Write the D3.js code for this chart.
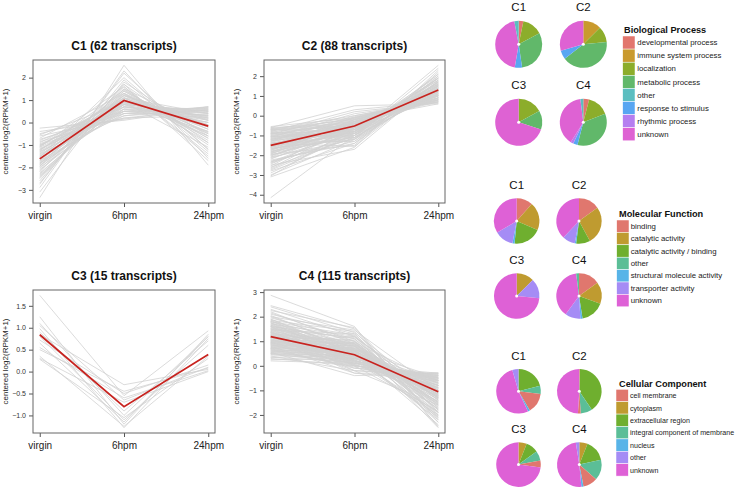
<!DOCTYPE html>
<html><head><meta charset="utf-8">
<script src="https://cdn.jsdelivr.net/npm/d3@7"></script>
<style>body{margin:0;background:#fff;} svg{display:block;font-family:"Liberation Sans",Arial,Helvetica,sans-serif;}</style>
</head><body><svg id="c" width="741" height="489"></svg>
<script>
// ---------------- DATA ----------------
const timepoints = ["virgin", "6hpm", "24hpm"];

const c1Title = "C1 (62 transcripts)";
const c1Mean = [-1.62, 0.98, -0.16];
const c1Ticks = [-3, -2, -1, 0, 1, 2];
const c1Lines = [
[-3.35,2.55,-1.9],[-2.9,2.3,-1.6],[-2.75,2.2,-1.2],[-2.6,1.7,-0.9],[-2.5,1.4,-0.5],[-2.4,1.2,0.1],
[-2.3,1.1,-0.3],[-2.25,0.9,0.4],[-2.2,1.6,-1.4],[-2.1,0.8,0.5],[-2.05,1.3,-0.7],[-2.0,0.6,0.6],
[-1.95,1.0,-0.1],[-1.9,0.7,0.3],[-1.85,1.5,-1.0],[-1.8,0.5,0.65],[-1.8,1.1,-0.4],[-1.75,0.9,0.2],
[-1.7,1.2,-0.6],[-1.7,0.4,0.7],[-1.65,0.8,0.0],[-1.6,1.0,-0.2],[-1.6,0.6,0.4],[-1.55,1.4,-0.8],
[-1.5,0.7,0.3],[-1.5,1.1,-0.5],[-1.45,0.9,0.1],[-1.4,0.3,0.55],[-1.4,1.3,-0.3],[-1.35,0.8,0.5],
[-1.3,1.0,-0.6],[-1.3,0.5,0.2],[-1.25,1.2,-0.1],[-1.2,0.7,0.6],[-1.2,0.9,-1.1],[-1.15,0.4,0.35],
[-1.1,1.6,-1.5],[-1.1,0.6,0.0],[-1.05,1.1,0.4],[-1.0,0.3,0.7],[-1.0,0.8,-0.4],[-0.95,0.5,0.5],
[-0.9,1.0,-0.2],[-0.85,0.2,0.6],[-0.8,0.7,0.1],[-0.75,0.4,0.45],[-0.7,1.3,-0.9],[-0.6,0.2,0.3],
[-0.5,0.5,0.55],[-0.4,0.15,0.7],[-0.25,0.1,0.65],[-2.7,1.9,-1.3],[-2.45,1.5,-0.2],[-2.35,0.95,0.25],
[-2.15,1.25,-0.45],[-1.95,1.7,-1.7],[-1.85,0.85,0.15],[-1.55,2.0,-1.2],[-1.25,1.45,-0.7],[-3.1,1.8,-0.6],
[-0.55,0.9,0.0],[-1.05,1.05,0.2]
];

const c2Title = "C2 (88 transcripts)";
const c2Mean = [-1.5, -0.52, 1.3];
const c2Ticks = [-4, -3, -2, -1, 0, 1, 2];
const c2Lines = [
[-4.15,-1.0,2.55],[-3.1,-1.6,2.3],[-3.0,-1.2,2.1],[-2.9,-0.9,1.9],[-2.8,-1.4,1.6],[-2.7,-0.8,2.0],
[-2.6,-1.1,1.4],[-2.5,-1.7,1.8],[-2.45,-0.6,1.2],[-2.4,-1.0,1.7],[-2.35,-0.7,0.9],[-2.3,-1.3,1.5],
[-2.2,-0.5,1.1],[-2.15,-0.9,1.9],[-2.1,-1.2,1.3],[-2.05,-0.4,0.8],[-2.0,-0.8,1.6],[-1.95,-1.5,2.2],
[-1.9,-0.6,1.0],[-1.9,-1.0,1.4],[-1.85,-0.3,0.7],[-1.8,-0.7,1.8],[-1.8,-1.1,1.2],[-1.75,-0.5,0.9],
[-1.7,-0.8,1.5],[-1.7,-0.2,0.6],[-1.65,-1.2,1.7],[-1.6,-0.6,1.1],[-1.6,-0.9,1.3],[-1.55,-0.4,0.8],
[-1.5,-0.7,1.6],[-1.5,-0.1,0.7],[-1.45,-1.0,1.9],[-1.4,-0.5,1.0],[-1.4,-0.8,1.4],[-1.35,-0.3,0.9],
[-1.3,-0.6,1.2],[-1.3,0.0,0.75],[-1.25,-0.9,1.8],[-1.2,-0.4,1.1],[-1.2,-0.7,1.5],[-1.15,-0.2,0.8],
[-1.1,-0.5,1.3],[-1.1,0.1,0.7],[-1.05,-0.8,1.7],[-1.0,-0.3,1.0],[-1.0,-0.6,1.4],[-0.95,0.2,0.65],
[-0.9,-0.4,1.2],[-0.9,-0.7,1.6],[-0.85,-0.1,0.9],[-0.8,-0.5,1.1],[-0.8,0.3,0.7],[-0.75,-0.3,1.3],
[-0.7,-0.6,1.5],[-0.7,0.0,0.8],[-0.65,-0.2,1.0],[-0.6,0.5,0.6],[-0.6,-0.4,1.2],[-0.55,-0.1,0.9],
[-2.55,-0.3,1.3],[-2.25,-1.4,2.0],[-1.95,-0.2,0.9],[-1.65,-1.1,2.4],[-1.35,-1.3,1.9],[-1.05,-1.0,2.1],
[-0.85,-0.9,1.7],[-0.65,-0.5,1.4],[-2.65,-0.5,1.0],[-2.0,-0.9,1.2],[-1.75,-0.35,1.05],[-1.45,-0.55,1.25],
[-1.25,-0.45,1.35],[-1.15,-0.65,1.45],[-0.95,-0.25,1.15],[-0.75,-0.15,1.05],[-2.35,-1.15,1.55],[-1.85,-0.75,1.35],
[-1.55,-0.85,1.65],[-1.05,-0.15,0.85],[-0.7,-0.8,1.9],[-2.75,-1.0,1.1],[-3.05,-0.6,1.5],[-1.6,-0.05,0.8],
[-1.2,-0.35,1.0],[-0.9,-1.1,1.55],[-1.4,-1.55,1.75],[-2.1,-0.45,1.25]
];

const c3Title = "C3 (15 transcripts)";
const c3Mean = [0.84, -0.8, 0.39];
const c3Ticks = [-1.0, -0.5, 0.0, 0.5, 1.0, 1.5];
const c3Lines = [
[1.74,-0.55,0.93],[1.25,-1.2,0.85],[1.1,-1.0,0.8],[1.05,-0.65,0.1],[0.98,-1.28,0.75],
[0.9,-0.9,0.7],[0.85,-0.3,0.05],[0.8,-1.1,0.6],[0.72,-0.5,0.15],[0.65,-1.15,0.8],
[0.55,-0.6,0.02],[0.5,-0.45,0.08],[0.35,-1.25,0.35],[0.3,-0.7,0.0],[0.28,-1.05,0.3]
];

const c4Title = "C4 (115 transcripts)";
const c4Mean = [1.19, 0.45, -1.06];
const c4Ticks = [-2, -1, 0, 1, 2, 3];
const c4Lines = [
[2.87,1.6,-2.5],[2.45,1.5,-2.3],[2.3,1.2,-2.1],[2.25,1.55,-1.9],[2.2,0.9,-1.7],[2.1,1.3,-2.2],
[2.0,0.8,-1.5],[1.95,1.1,-1.8],[1.9,0.6,-1.3],[1.85,1.4,-2.0],[1.8,0.7,-1.1],[1.8,1.0,-1.6],
[1.75,0.5,-0.9],[1.7,1.2,-1.4],[1.7,0.4,-0.8],[1.65,0.9,-1.2],[1.6,0.3,-0.6],[1.6,1.1,-1.7],
[1.55,0.6,-1.0],[1.5,0.2,-0.5],[1.5,0.8,-1.3],[1.45,1.3,-1.9],[1.45,0.5,-0.7],[1.4,0.1,-0.4],
[1.4,0.9,-1.5],[1.35,0.4,-0.9],[1.35,0.7,-1.1],[1.3,0.0,-0.3],[1.3,1.0,-1.6],[1.25,0.3,-0.6],
[1.25,0.6,-1.0],[1.2,-0.1,-0.35],[1.2,0.8,-1.4],[1.15,0.2,-0.5],[1.15,0.5,-0.8],[1.1,0.9,-1.2],
[1.1,0.1,-0.4],[1.05,0.4,-0.7],[1.05,0.7,-1.3],[1.0,-0.2,-0.3],[1.0,0.6,-1.0],[0.95,0.3,-0.6],
[0.95,0.8,-1.5],[0.9,0.0,-0.45],[0.9,0.5,-0.9],[0.85,0.2,-0.55],[0.85,0.7,-1.2],[0.8,-0.3,-0.3],
[0.8,0.4,-0.75],[0.75,0.1,-0.5],[0.75,0.6,-1.1],[0.7,0.3,-0.65],[0.7,-0.1,-0.35],[0.65,0.5,-0.95],
[0.65,0.2,-0.55],[0.6,0.0,-0.4],[0.6,0.4,-0.8],[0.55,-0.4,-0.3],[0.55,0.3,-0.7],[0.5,0.1,-0.5],
[0.5,0.6,-1.0],[0.45,0.2,-0.6],[0.4,-0.2,-0.4],[0.35,0.4,-0.9],[0.3,0.0,-0.5],[0.25,0.3,-0.7],
[0.2,0.1,-0.45],[2.15,1.0,-2.52],[1.9,0.5,-2.4],[1.75,0.2,-2.0],[1.6,0.0,-1.85],[1.4,-0.2,-1.6],
[1.2,0.35,-2.1],[1.0,0.9,-1.8],[0.9,1.2,-1.4],[0.8,0.95,-1.65],[0.7,0.75,-1.3],[2.0,1.45,-1.0],
[1.85,0.35,-0.6],[1.65,0.65,-0.5],[1.5,1.15,-1.1],[1.3,0.55,-1.75],[1.1,0.25,-1.45],[0.95,0.05,-1.2],
[0.85,0.45,-2.2],[1.55,0.85,-2.3],[1.35,0.15,-0.8],[1.25,0.95,-0.7],[1.15,0.65,-1.9],[1.05,0.15,-1.05],
[0.75,0.85,-1.55],[0.6,0.65,-1.25],[0.45,0.45,-1.15],[0.35,0.15,-0.85],[2.4,1.35,-1.35],[2.05,0.7,-1.15],
[1.8,1.25,-2.45],[1.45,0.05,-1.0],[1.2,0.45,-1.25],[1.0,0.35,-1.35],[0.9,0.65,-1.75],[0.7,0.55,-1.45],
[0.55,0.85,-1.3],[1.65,0.35,-1.15],[1.35,0.8,-2.0],[1.15,1.05,-2.15],[0.95,0.55,-0.6],[0.65,-0.05,-0.8],
[1.5,0.45,-1.55],[1.25,-0.3,-0.6],[1.05,0.25,-1.9],[0.85,0.05,-0.9],[0.5,0.25,-1.05],[1.75,0.75,-1.25],
[1.6,0.6,-2.05]
];

// Pie charts (percent per category, in legend order)
const clusterNames = ["C1", "C2", "C3", "C4"];

const bpTitle = "Biological Process";
const bpCategories = ["developmental process","immune system process","localization","metabolic process","other","response to stimulus","rhythmic process","unknown"];
const bpColors = ["#E2766D","#C99A2E","#8CAD2B","#61B86A","#5CBEC0","#58A6F2","#B57EF0","#DE62D3"];
const bpOrder = [0,1,2,3,5,6,7,4];
const bpC1 = [3.2, 0, 14, 30.5, 3, 5, 0, 44.3];
const bpC2 = [0, 12.5, 11, 41, 0, 6, 0, 29.5];
const bpC3 = [0, 0, 17, 13, 0, 0, 0, 70];
const bpC4 = [4, 0, 15, 35, 2, 3, 2, 39];

const mfTitle = "Molecular Function";
const mfCategories = ["binding","catalytic activity","catalytic activity / binding","other","structural molecule activity","transporter activity","unknown"];
const mfColors = ["#E0776E","#BF9B30","#6FAF2F","#5BBE97","#58B4E8","#A58CF5","#DE61D6"];
const mfOrder = [0,1,2,4,5,6,3];
const mfC1 = [11.5, 20, 20, 0, 1.5, 13.5, 33.5];
const mfC2 = [15, 27, 10, 0, 1, 9, 38];
const mfC3 = [0, 12.5, 0, 0, 0, 14, 73.5];
const mfC4 = [15, 15.5, 17, 2, 1.5, 11, 38];

const ccTitle = "Cellular Component";
const ccCategories = ["cell membrane","cytoplasm","extracellular region","integral component of membrane","nucleus","other","unknown"];
const ccColors = ["#E0776E","#BF9B30","#6FAF2F","#5BBE97","#58B4E8","#A58CF5","#DE61D6"];
const ccOrder = [1,2,3,0,4,6,5];
const ccC1 = [14.5, 0, 21, 6, 1.5, 4.5, 52.5];
const ccC2 = [2, 0.5, 40, 8.5, 0, 0, 49];
const ccC3 = [5, 6, 9, 7, 0, 0, 73];
const ccC4 = [10.5, 6, 15.5, 15, 1.5, 2.5, 49];

// ---------------- DRAWING ----------------
const svg = d3.select("#c");
svg.append("rect").attr("width", 741).attr("height", 489).attr("fill", "#fff");

function linePanel(cfg) {
  const g = svg.append("g");
  const {title, lines, mean, ticks, fmt, L, R, T, B} = cfg;
  const [mn, mx] = d3.extent(lines.flat());
  const pad = (mx - mn) * 0.04;
  const y = d3.scaleLinear().domain([mn - pad, mx + pad]).range([B, T]);
  const x = d3.scalePoint().domain(timepoints).range([L, R]).padding(0.08);
  const line = d3.line().x((d, i) => x(timepoints[i])).y(d => y(d));

  g.append("g").selectAll("path").data(lines).join("path")
    .attr("d", line).attr("fill", "none").attr("stroke", "#d2d2d2").attr("stroke-width", 0.8);
  g.append("path").attr("d", line(mean)).attr("fill", "none")
    .attr("stroke", "#c8231f").attr("stroke-width", 1.7);

  const ya = g.append("g").attr("transform", `translate(${L},0)`)
    .call(d3.axisLeft(y).tickValues(ticks).tickSize(4).tickPadding(3).tickFormat(fmt));
  ya.select(".domain").remove();
  ya.selectAll("line").attr("stroke", "#555");
  ya.selectAll("text").attr("font-size", 7).attr("fill", "#333").attr("font-family", "Liberation Sans, Arial, sans-serif");

  const xa = g.append("g").attr("transform", `translate(0,${B})`)
    .call(d3.axisBottom(x).tickSize(4).tickPadding(5));
  xa.select(".domain").remove();
  xa.selectAll("line").attr("stroke", "#555");
  xa.selectAll("text").attr("font-size", 10).attr("fill", "#222").attr("font-family", "Liberation Sans, Arial, sans-serif");

  g.append("rect").attr("x", L).attr("y", T).attr("width", R - L).attr("height", B - T)
    .attr("fill", "none").attr("stroke", "#666").attr("stroke-width", 1);

  g.append("text").attr("x", (L + R) / 2).attr("y", T - 10.5).attr("text-anchor", "middle")
    .attr("font-size", 12).attr("font-weight", "bold").attr("fill", "#111").text(title);

  g.append("text").attr("transform", `translate(${L - 25},${(T + B) / 2}) rotate(-90)`)
    .attr("text-anchor", "middle").attr("font-size", 8).attr("fill", "#222")
    .text("centered log2(RPKM+1)");
}

const intFmt = d3.format("d");
const decFmt = d3.format(".1f");
linePanel({title: c1Title, lines: c1Lines, mean: c1Mean, ticks: c1Ticks, fmt: intFmt, L: 33, R: 215, T: 60, B: 203});
linePanel({title: c2Title, lines: c2Lines, mean: c2Mean, ticks: c2Ticks, fmt: intFmt, L: 264, R: 445, T: 60, B: 203});
linePanel({title: c3Title, lines: c3Lines, mean: c3Mean, ticks: c3Ticks, fmt: decFmt, L: 33, R: 215, T: 290, B: 433});
linePanel({title: c4Title, lines: c4Lines, mean: c4Mean, ticks: c4Ticks, fmt: intFmt, L: 264, R: 445, T: 290, B: 433});

function pieSection(cfg) {
  const g = svg.append("g");
  const {values, colors, order, cats, title, cx, cy, r, labelDy, leg} = cfg;
  const pie = d3.pie().sort(null).value(d => d.v).startAngle(0).endAngle(2 * Math.PI);
  const arc = d3.arc().innerRadius(0).outerRadius(r);
  values.forEach((vals, k) => {
    const px = cx[k % 2], py = cy[Math.floor(k / 2)];
    const data = order.map(i => ({v: vals[i], c: colors[i]})).filter(d => d.v > 0);
    const pg = g.append("g").attr("transform", `translate(${px},${py})`);
    pg.selectAll("path").data(pie(data)).join("path").attr("d", arc).attr("fill", d => d.data.c);
    pg.append("circle").attr("r", 1.5).attr("fill", "#fff");
    g.append("text").attr("x", px).attr("y", py - labelDy).attr("text-anchor", "middle")
      .attr("font-size", 11.5).attr("fill", "#111").text(clusterNames[k]);
  });
  g.append("text").attr("x", leg.tx).attr("y", leg.ty).attr("font-size", 9.2).attr("font-weight", "bold")
    .attr("fill", "#111").text(title);
  const rows = g.append("g").selectAll("g").data(cats).join("g")
    .attr("transform", (d, i) => `translate(0,${leg.top + i * leg.h})`);
  rows.append("rect").attr("x", leg.kx).attr("y", 0).attr("width", 12.3).attr("height", leg.h)
    .attr("fill", (d, i) => colors[i]).attr("stroke", "#fff").attr("stroke-width", 0.5);
  rows.append("text").attr("x", leg.lx).attr("y", leg.h / 2 + 2.7).attr("font-size", leg.fs)
    .attr("fill", "#222").text(d => d);
}

pieSection({values: [bpC1, bpC2, bpC3, bpC4], colors: bpColors, order: bpOrder, cats: bpCategories, title: bpTitle,
  cx: [518.7, 583.3], cy: [44.3, 122.3], r: 23.5, labelDy: 33,
  leg: {tx: 624, ty: 33.3, kx: 622.7, lx: 637.3, top: 36, h: 13.1, fs: 7.8}});
pieSection({values: [mfC1, mfC2, mfC3, mfC4], colors: mfColors, order: mfOrder, cats: mfCategories, title: mfTitle,
  cx: [516.7, 579], cy: [221, 296], r: 22.7, labelDy: 32,
  leg: {tx: 619, ty: 216.6, kx: 616.7, lx: 630.7, top: 220, h: 12.4, fs: 7.8}});
pieSection({values: [ccC1, ccC2, ccC3, ccC4], colors: ccColors, order: ccOrder, cats: ccCategories, title: ccTitle,
  cx: [518.5, 579.3], cy: [391.3, 464.6], r: 22.3, labelDy: 31.5,
  leg: {tx: 619, ty: 387.3, kx: 616, lx: 630, top: 389.3, h: 12.4, fs: 7.1}});
</script>
</body></html>
